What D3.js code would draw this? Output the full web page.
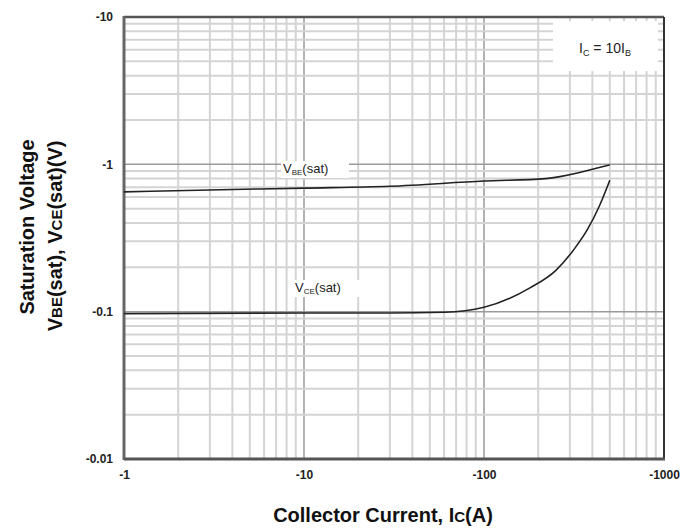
<!DOCTYPE html>
<html>
<head>
<meta charset="utf-8">
<script src="https://cdn.jsdelivr.net/npm/d3@7"></script>
<style>
  body { margin: 0; background: #fff; }
  svg { font-family: "Liberation Sans", Arial, sans-serif; }
  .tick-lbl text { font-size: 12px; font-weight: bold; fill: #222; }
</style>
</head>
<body>
<div id="chart"></div>
<script>
// collector current (A) and saturation voltages (V)
var vbeCurrent = [1, 3, 10, 30, 100, 220, 340, 420, 500];
var vbeVolts   = [0.65, 0.67, 0.69, 0.71, 0.77, 0.80, 0.88, 0.94, 0.99];
var vceCurrent = [1, 10, 30, 60, 100, 180, 250, 320, 375, 440, 500];
var vceVolts   = [0.097, 0.098, 0.098, 0.099, 0.107, 0.145, 0.19, 0.27, 0.36, 0.53, 0.78];

var xTicks = [1, 10, 100, 1000];
var xTickLabels = ["-1", "-10", "-100", "-1000"];
var yTicks = [0.01, 0.1, 1, 10];
var yTickLabels = ["-0.01", "-0.1", "-1", "-10"];

var width = 696, height = 531;
var pLeft = 124, pRight = 664, pTop = 17, pBottom = 459;

var svg = d3.select("#chart").append("svg")
  .attr("width", width)
  .attr("height", height);

var x = d3.scaleLog().domain([1, 1000]).range([pLeft, pRight]);
var y = d3.scaleLog().domain([0.01, 10]).range([pBottom, pTop]);

// grid values 1..9 in every decade
function gridVals(lo, hi) {
  var out = [];
  for (var d = lo; d < hi; d *= 10) {
    for (var k = 1; k <= 9; k++) out.push({v: d * k, major: k == 1});
  }
  return out;
}
var xg = gridVals(1, 1000).filter(function(d) { return d.v > 1; });
var yg = gridVals(0.01, 10).filter(function(d) { return d.v > 0.01; });

var grid = svg.append("g");
grid.selectAll(".vx").data(xg).enter().append("line")
  .attr("x1", function(d) { return x(d.v); })
  .attr("x2", function(d) { return x(d.v); })
  .attr("y1", pTop).attr("y2", pBottom)
  .attr("stroke", function(d) { return d.major ? "#9a9a9a" : "#d4d4d4"; })
  .attr("stroke-width", function(d) { return d.major ? 1.5 : 2; });
grid.selectAll(".hy").data(yg).enter().append("line")
  .attr("y1", function(d) { return y(d.v); })
  .attr("y2", function(d) { return y(d.v); })
  .attr("x1", pLeft).attr("x2", pRight)
  .attr("stroke", function(d) { return d.major ? "#9a9a9a" : "#d4d4d4"; })
  .attr("stroke-width", function(d) { return d.major ? 1.5 : 2; });

// legend box (covers the grid)
svg.append("rect")
  .attr("x", 553).attr("y", 21)
  .attr("width", 105).attr("height", 50)
  .attr("fill", "#fff");
var leg = svg.append("text")
  .attr("x", 605).attr("y", 53)
  .attr("text-anchor", "middle")
  .style("font-size", "14px")
  .attr("fill", "#222");
leg.append("tspan").text("I");
leg.append("tspan").text("C").style("font-size", "9px").attr("dy", 3);
leg.append("tspan").text(" = 10I").attr("dy", -3);
leg.append("tspan").text("B").style("font-size", "9px").attr("dy", 3);

// frame
svg.append("line").attr("x1", pLeft).attr("x2", pRight).attr("y1", pTop).attr("y2", pTop)
  .attr("stroke", "#555").attr("stroke-width", 2.5);
svg.append("line").attr("x1", pRight).attr("x2", pRight).attr("y1", pTop).attr("y2", pBottom)
  .attr("stroke", "#333").attr("stroke-width", 2);
svg.append("line").attr("x1", pLeft).attr("x2", pLeft).attr("y1", pTop - 1).attr("y2", pBottom + 1)
  .attr("stroke", "#666").attr("stroke-width", 3);
svg.append("line").attr("x1", pLeft).attr("x2", pRight + 1).attr("y1", pBottom).attr("y2", pBottom)
  .attr("stroke", "#555").attr("stroke-width", 3);

// curves
var line = d3.line()
  .x(function(d) { return x(d[0]); })
  .y(function(d) { return y(d[1]); })
  .curve(d3.curveMonotoneX);

svg.append("path")
  .datum(d3.zip(vbeCurrent, vbeVolts))
  .attr("d", line)
  .attr("fill", "none").attr("stroke", "#222").attr("stroke-width", 1.6);
svg.append("path")
  .datum(d3.zip(vceCurrent, vceVolts))
  .attr("d", line)
  .attr("fill", "none").attr("stroke", "#222").attr("stroke-width", 1.6);

// curve labels with white backing
function curveLabel(px, py, sub) {
  svg.append("rect")
    .attr("x", px - 2).attr("y", py - 12)
    .attr("width", 68).attr("height", 17)
    .attr("fill", "#fff");
  var t = svg.append("text")
    .attr("x", px).attr("y", py)
    .style("font-size", "13px")
    .attr("fill", "#222");
  t.append("tspan").text("V");
  t.append("tspan").text(sub).style("font-size", "8px").attr("dy", 2);
  t.append("tspan").text("(sat)").attr("dy", -2);
}
curveLabel(283, 173, "BE");
curveLabel(295, 292, "CE");

// tick labels through d3 axes
var xAxis = d3.axisBottom(x)
  .tickValues(xTicks)
  .tickFormat(function(d, i) { return xTickLabels[i]; })
  .tickSize(0).tickPadding(11);
svg.append("g")
  .attr("class", "tick-lbl")
  .attr("transform", "translate(0," + pBottom + ")")
  .call(xAxis)
  .call(function(g) { g.select(".domain").remove(); });

var yAxis = d3.axisLeft(y)
  .tickValues(yTicks)
  .tickFormat(function(d, i) { return yTickLabels[i]; })
  .tickSize(0).tickPadding(11);
svg.append("g")
  .attr("class", "tick-lbl")
  .attr("transform", "translate(" + pLeft + ",0)")
  .call(yAxis)
  .call(function(g) { g.select(".domain").remove(); });

svg.selectAll(".tick-lbl text").attr("font-family", null).attr("font-size", null);

// axis titles
var xt = svg.append("text")
  .attr("x", 383).attr("y", 522)
  .attr("text-anchor", "middle")
  .style("font-size", "20px").style("font-weight", "bold")
  .attr("fill", "#111");
xt.append("tspan").text("Collector Current, I");
xt.append("tspan").text("C").style("font-size", "15px");
xt.append("tspan").text("(A)");

svg.append("text")
  .attr("transform", "translate(34,227) rotate(-90)")
  .attr("text-anchor", "middle")
  .style("font-size", "20px").style("font-weight", "bold")
  .attr("fill", "#111")
  .text("Saturation Voltage");
var yt2 = svg.append("text")
  .attr("transform", "translate(62,236) rotate(-90)")
  .attr("text-anchor", "middle")
  .style("font-size", "20px").style("font-weight", "bold")
  .attr("fill", "#111");
yt2.append("tspan").text("V");
yt2.append("tspan").text("BE").style("font-size", "15px");
yt2.append("tspan").text("(sat), V");
yt2.append("tspan").text("CE").style("font-size", "15px");
yt2.append("tspan").text("(sat)(V)");
</script>
</body>
</html>
